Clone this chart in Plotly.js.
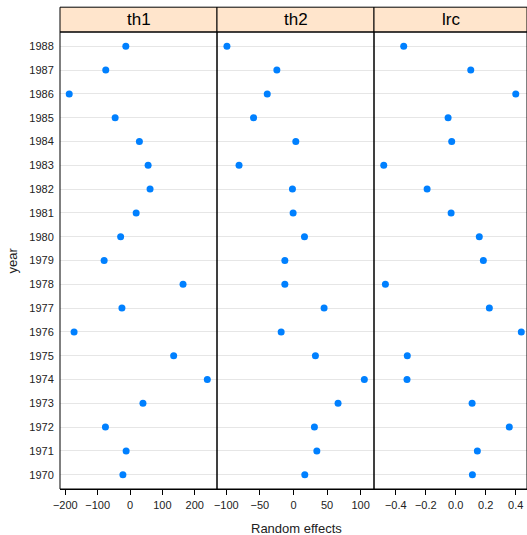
<!DOCTYPE html>
<html>
<head>
<meta charset="utf-8">
<script src="https://cdn.plot.ly/plotly-3.0.1.min.js"></script>
<style>html,body{margin:0;padding:0;background:#fff;}#chart{width:527px;height:535px;}</style>
</head>
<body>
<div id="chart"></div>
<script>
const years = [1970,1971,1972,1973,1974,1975,1976,1977,1978,1979,1980,1981,1982,1983,1984,1985,1986,1987,1988];
const th1 = [-22,-12,-76,40,239,135,-173,-25,164,-80,-29,19,62,56,29,-46,-188,-75,-13];
const th2 = [16.9,34.8,31.2,66.4,105.5,32.7,-18.3,45.6,-12.8,-12.8,16.4,-0.5,-1.5,-81,3.5,-59.4,-39,-24.7,-99];
const lrc = [0.111,0.144,0.357,0.109,-0.325,-0.323,0.437,0.224,-0.469,0.184,0.157,-0.031,-0.191,-0.48,-0.027,-0.051,0.40,0.10,-0.347];
const panels = ["th1","th2","lrc"];
const xTicks1 = [-200,-100,0,100,200];
const xTicks2 = [-100,-50,0,50,100];
const xTicks3 = [-0.4,-0.2,0.0,0.2,0.4];

const W = 527, H = 535;
const mL = 60, mR = 0, mT = 32, mB = 46;
const pw = W - mL - mR, ph = H - mT - mB;
const panelW = 157;
const d1 = [0, panelW/pw], d2 = [panelW/pw, 2*panelW/pw], d3 = [2*panelW/pw, 1];

const pointColor = '#0080ff';
const font = 'Liberation Sans, Arial, sans-serif';

function tr(x, xa, ya){
  return {type:'scatter', mode:'markers', x:x, y:years, xaxis:xa, yaxis:ya,
    marker:{color:pointColor, size:7, line:{width:0}}, hoverinfo:'x+y', showlegend:false, cliponaxis:false};
}
const data = [tr(th1,'x','y'), tr(th2,'x2','y2'), tr(lrc,'x3','y3')];

const xaxBase = {showgrid:false, zeroline:false, showline:true, linecolor:'#000', linewidth:1,
  ticks:'outside', ticklen:5, tickcolor:'#000', tickwidth:1, ticklabelstandoff:1,
  tickfont:{family:font, size:11, color:'#222'}, anchor:'y', fixedrange:true};
const yRange = [1969.4, 1988.6];
const yaxBase = {range:yRange, showgrid:true, gridcolor:'#e6e6e6', gridwidth:1, zeroline:false,
  showline:false, tickvals:years, fixedrange:true};

const layout = {
  width:W, height:H, margin:{l:mL, r:mR, t:mT, b:mB, pad:0},
  paper_bgcolor:'#fff', plot_bgcolor:'#fff',
  font:{family:font, color:'#222'},
  showlegend:false,
  xaxis: Object.assign({}, xaxBase, {domain:d1, range:[-216.5, 269], tickvals:xTicks1, anchor:'y'}),
  xaxis2: Object.assign({}, xaxBase, {domain:d2, range:[-113.8, 119.9], tickvals:xTicks2, anchor:'y2'}),
  xaxis3: Object.assign({}, xaxBase, {domain:d3, range:[-0.545, 0.475], tickvals:xTicks3, tickformat:'.1f', anchor:'y3'}),
  yaxis: Object.assign({}, yaxBase, {anchor:'x', ticks:'outside', ticklen:3, tickcolor:'rgba(0,0,0,0)',
    tickfont:{family:font, size:11, color:'#222'}}),
  yaxis2: Object.assign({}, yaxBase, {anchor:'x2', showticklabels:false, ticks:''}),
  yaxis3: Object.assign({}, yaxBase, {anchor:'x3', showticklabels:false, ticks:''}),
  shapes:[], annotations:[]
};

const stripH = 24.8/ph;
[d1,d2,d3].forEach((d,i)=>{
  layout.shapes.push({type:'rect', xref:'paper', yref:'paper', x0:d[0], x1:d[1], y0:1, y1:1+stripH,
    fillcolor:'#ffe5cc', line:{color:'#000', width:1}, layer:'above'});
  layout.shapes.push({type:'rect', xref:'paper', yref:'paper', x0:d[0], x1:d[1], y0:0, y1:1,
    fillcolor:'rgba(0,0,0,0)', line:{color:'#000', width:1}, layer:'above'});
  layout.annotations.push({xref:'paper', yref:'paper', x:(d[0]+d[1])/2, y:1+stripH/2,
    text:panels[i], showarrow:false, xanchor:'center', yanchor:'middle',
    font:{family:font, size:17, color:'#000'}});
});
layout.annotations.push({xref:'paper', yref:'paper', x:(296-mL)/pw, y:-(528-(mT+ph))/ph,
  text:'Random effects', showarrow:false, xanchor:'center', yanchor:'middle',
  font:{family:font, size:13, color:'#222'}});
layout.annotations.push({xref:'paper', yref:'paper', x:-(mL-12)/pw, y:1-(260.5-mT)/ph,
  text:'year', showarrow:false, textangle:-90, xanchor:'center', yanchor:'middle',
  font:{family:font, size:13, color:'#222'}});

Plotly.newPlot('chart', data, layout, {displayModeBar:false, staticPlot:true});
</script>
</body>
</html>
